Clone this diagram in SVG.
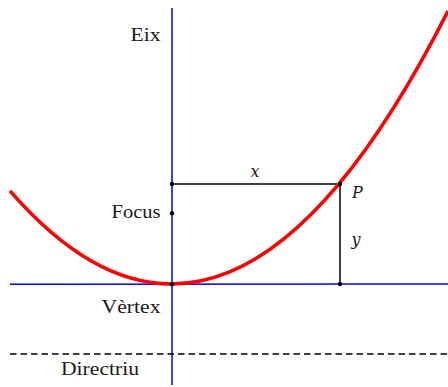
<svg xmlns="http://www.w3.org/2000/svg" width="448" height="387" viewBox="0 0 448 387">
<style>
.axis{stroke:#0000ff;stroke-width:1.5;fill:none}
.blk{stroke:#000;stroke-width:1.5;fill:none}
.dot{fill:#000}
text{font-family:'Liberation Serif','DejaVu Serif','Times New Roman',serif;font-size:18px;fill:#1a1a1a}
.it{font-family:'DejaVu Serif',serif;font-style:italic;font-size:16px}
</style>
<rect width="448" height="387" fill="#fff"/>
<g id="connectors">
<line class="axis" x1="172" y1="8" x2="172" y2="385"/>
<line class="axis" x1="10" y1="284.3" x2="448" y2="284"/>
<line class="blk" x1="10" y1="354" x2="448" y2="354" stroke-dasharray="6.5,4"/>
<line class="blk" x1="172" y1="184" x2="340" y2="184"/>
<line class="blk" x1="340" y1="184" x2="340" y2="284"/>
<path d="M10,190.9 Q229,443.4 448,11.1" fill="none" stroke="#ff0000" stroke-width="3.6"/>
</g>
<g id="axis-label"><text x="160.5" y="41" text-anchor="end" textLength="30" lengthAdjust="spacingAndGlyphs">Eix</text></g>
<g id="focus"><circle class="dot" cx="172" cy="213.3" r="2.2"/><text x="160.5" y="218" text-anchor="end" textLength="49" lengthAdjust="spacingAndGlyphs">Focus</text></g>
<g id="vertex"><circle class="dot" cx="172" cy="284.2" r="2.2"/><text x="160.5" y="313" text-anchor="end" textLength="59" lengthAdjust="spacingAndGlyphs">Vèrtex</text></g>
<g id="directrix"><text x="61" y="375" textLength="78" lengthAdjust="spacingAndGlyphs">Directriu</text></g>
<g id="corner"><circle class="dot" cx="172" cy="184" r="2.2"/></g>
<g id="P"><circle class="dot" cx="340" cy="184" r="2.2"/><text class="it" x="352" y="197.5">P</text></g>
<g id="foot"><circle class="dot" cx="340" cy="284" r="2.2"/></g>
<g id="x-label"><text class="it" x="250.5" y="176.5">x</text></g>
<g id="y-label"><text class="it" x="351.5" y="245">y</text></g>
</svg>
